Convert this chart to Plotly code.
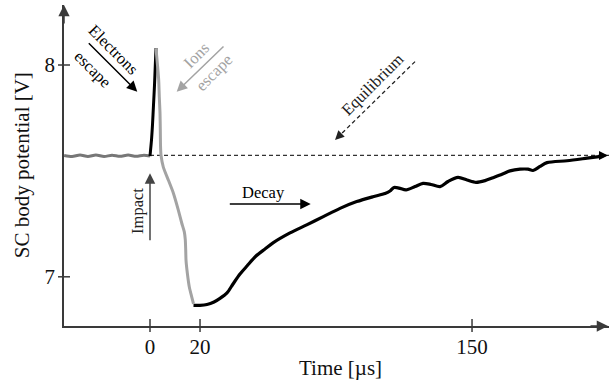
import plotly.graph_objects as go

FONT = "Liberation Serif"
AXIS_COLOR = "#3a3a3a"
ION_COLOR = "#a3a3a3"
PRE_COLOR = "#777777"

# Axis ranges, ticks and labels
X_RANGE = [-40.06, 213.8]
Y_RANGE = [6.7677, 8.2833]
X_TICKS = [0, 23.3, 150]
X_TICK_LABELS = ["0", "20", "150"]
Y_TICKS = [7, 8]
Y_TICK_LABELS = ["7", "8"]

# Equilibrium potential [V]
EQUILIBRIUM = 7.573

# Potential before the impact
pre_t = [-40.0, -36.3, -32.6, -28.9, -25.2, -21.4, -17.7, -14.0, -10.2, -6.5, -2.8, 0.0]
pre_v = [7.573, 7.568, 7.575, 7.568, 7.575, 7.568, 7.574, 7.569, 7.575, 7.569, 7.574, 7.570]

# Electrons escape: fast rise
elec_t = [0.0, 0.70, 1.16, 1.63, 2.10, 2.47, 2.79]
elec_v = [7.570, 7.646, 7.717, 7.811, 7.906, 8.000, 8.080]

# Ions escape: drop to the minimum
ion_t = [2.79, 3.40, 4.05, 4.33, 4.66, 4.80, 4.89, 5.12, 6.20, 8.53, 10.86, 13.19,
         14.77, 15.98, 16.44, 16.63, 16.77, 17.38, 18.31, 19.43, 20.26]
ion_v = [8.080, 8.009, 7.929, 7.849, 7.773, 7.693, 7.622, 7.575, 7.518, 7.457, 7.396,
         7.315, 7.254, 7.212, 7.174, 7.127, 7.079, 7.018, 6.952, 6.905, 6.872]

# Decay back to equilibrium
decay_t = [20.26, 23.29, 26.55, 29.81, 32.61, 35.87, 38.66, 41.92, 45.18, 49.38, 53.57,
           57.29, 65.21, 72.99, 80.73, 88.51, 96.29, 103.88, 109.47, 111.80, 113.66,
           115.99, 119.25, 123.45, 127.17, 130.90, 135.09, 138.82, 143.48, 147.67,
           151.86, 156.05, 159.78, 163.97, 167.70, 172.36, 176.08, 178.41, 181.67,
           184.93, 194.25, 203.57, 211.02]
decay_v = [6.865, 6.865, 6.869, 6.881, 6.898, 6.924, 6.966, 7.013, 7.051, 7.098, 7.131,
           7.160, 7.207, 7.245, 7.284, 7.323, 7.355, 7.378, 7.393, 7.405, 7.422,
           7.419, 7.410, 7.426, 7.441, 7.436, 7.426, 7.450, 7.469, 7.457,
           7.446, 7.454, 7.468, 7.484, 7.500, 7.508, 7.508, 7.502, 7.521,
           7.539, 7.548, 7.560, 7.570]

fig = go.Figure()

# equilibrium reference line
fig.add_trace(go.Scatter(x=[0, X_RANGE[1]], y=[EQUILIBRIUM, EQUILIBRIUM], mode="lines",
                         line=dict(color="#333333", width=1.2, dash="4px,3px"),
                         hoverinfo="skip"))
fig.add_trace(go.Scatter(x=pre_t, y=pre_v, mode="lines",
                         line=dict(color=PRE_COLOR, width=3, shape="spline", smoothing=0.8)))
fig.add_trace(go.Scatter(x=decay_t, y=decay_v, mode="lines",
                         line=dict(color="black", width=3.2, shape="spline", smoothing=0.8)))
fig.add_trace(go.Scatter(x=elec_t, y=elec_v, mode="lines",
                         line=dict(color="black", width=3, shape="spline", smoothing=0.5)))
fig.add_trace(go.Scatter(x=ion_t, y=ion_v, mode="lines",
                         line=dict(color=ION_COLOR, width=3, shape="spline", smoothing=0.6)))

# tick marks crossing the axes
shapes = []
for v in X_TICKS:
    shapes.append(dict(type="line", xref="x", yref="paper", x0=v, x1=v,
                       ysizemode="pixel", yanchor=0, y0=-6, y1=7,
                       line=dict(color=AXIS_COLOR, width=1.5)))
for v in Y_TICKS:
    shapes.append(dict(type="line", yref="y", xref="paper", y0=v, y1=v,
                       xsizemode="pixel", xanchor=0, x0=-6, x1=6,
                       line=dict(color=AXIS_COLOR, width=1.5)))


def arrow(x, y, ax, ay, color, width=1.5, size=1.4, head=2):
    return dict(x=x, y=y, ax=ax, ay=ay, xref="x", yref="y", axref="x", ayref="y",
                text="", showarrow=True, arrowhead=head, arrowsize=size,
                arrowwidth=width, arrowcolor=color)


def label(text, x, y, angle, color="black"):
    return dict(x=x, y=y, xref="x", yref="y", text=text, showarrow=False,
                textangle=angle, xanchor="center", yanchor="middle",
                font=dict(family=FONT, size=16.5, color=color))


annotations = [
    # axis arrowheads
    dict(x=1, y=0, xref="paper", yref="paper", ax=-20, ay=0, axref="pixel", ayref="pixel",
         text="", showarrow=True, arrowhead=2, arrowsize=1.5, arrowwidth=1.5,
         arrowcolor=AXIS_COLOR),
    dict(x=0, y=1, xref="paper", yref="paper", ax=0, ay=20, axref="pixel", ayref="pixel",
         text="", showarrow=True, arrowhead=2, arrowsize=1.5, arrowwidth=1.5,
         arrowcolor=AXIS_COLOR),
    # arrowhead at the end of the equilibrium line
    dict(x=1, y=EQUILIBRIUM, xref="paper", yref="y", ax=-8, ay=0, axref="pixel",
         ayref="pixel", text="", showarrow=True, arrowhead=2, arrowsize=1.2,
         arrowwidth=1.5, arrowcolor="black"),
    # process arrows
    arrow(-5.92, 7.874, -29.21, 8.110, "black"),
    arrow(12.44, 7.874, 34.94, 8.094, ION_COLOR),
    arrow(0, 7.489, 0, 7.166, "#444444"),
    arrow(74.86, 7.344, 36.47, 7.344, "black"),
    # equilibrium dashed pointer: head only, shaft drawn as a dashed shape
    dict(x=86.18, y=7.646, ax=88.5, ay=7.669, xref="x", yref="y", axref="x", ayref="y",
         text="", showarrow=True, arrowhead=2, arrowsize=1.4, arrowwidth=1.3,
         arrowcolor="#222222"),
    # text labels
    label("Electrons", -17.24, 8.071, 45),
    label("escape", -26.41, 7.981, 45),
    label("Ions", 21.43, 8.047, -45, ION_COLOR),
    label("escape", 29.81, 7.965, -45, ION_COLOR),
    label("Equilibrium", 103.65, 7.906, -45, "#222222"),
    label("Impact", -5.59, 7.311, -90, "#222222"),
    label("Decay", 52.78, 7.397, 0),
    # axis titles
    dict(x=(340.5 - 64) / 545, y=(326 - 368) / 321, xref="paper", yref="paper",
         text="Time [\u00b5s]", showarrow=False, xanchor="center", yanchor="middle",
         font=dict(family=FONT, size=21, color="#111111")),
    dict(x=(21.7 - 64) / 545, y=0.5, xref="paper", yref="paper",
         text="SC body potential [V]", showarrow=False, textangle=-90,
         xanchor="center", yanchor="middle",
         font=dict(family=FONT, size=21, color="#111111")),
]

shapes.append(dict(type="line", xref="x", yref="y", x0=123.45, y0=8.016, x1=87.5, y1=7.659,
                   line=dict(color="#222222", width=1.3, dash="4px,3px")))

fig.update_layout(
    width=609, height=382,
    margin=dict(l=64, r=0, t=5, b=56),
    paper_bgcolor="white", plot_bgcolor="white",
    showlegend=False,
    shapes=shapes,
    annotations=annotations,
    xaxis=dict(range=X_RANGE, showgrid=False, zeroline=False, showline=True,
               linecolor=AXIS_COLOR, linewidth=1.5, tickvals=X_TICKS,
               ticktext=X_TICK_LABELS, ticks="", ticklabelstandoff=1,
               tickfont=dict(family=FONT, size=21, color="#111111")),
    yaxis=dict(range=Y_RANGE, showgrid=False, zeroline=False, showline=True,
               linecolor=AXIS_COLOR, linewidth=1.5, tickvals=Y_TICKS,
               ticktext=Y_TICK_LABELS, ticks="", ticklabelstandoff=3,
               tickfont=dict(family=FONT, size=21, color="#111111")),
)

fig.write_html("out.html")
